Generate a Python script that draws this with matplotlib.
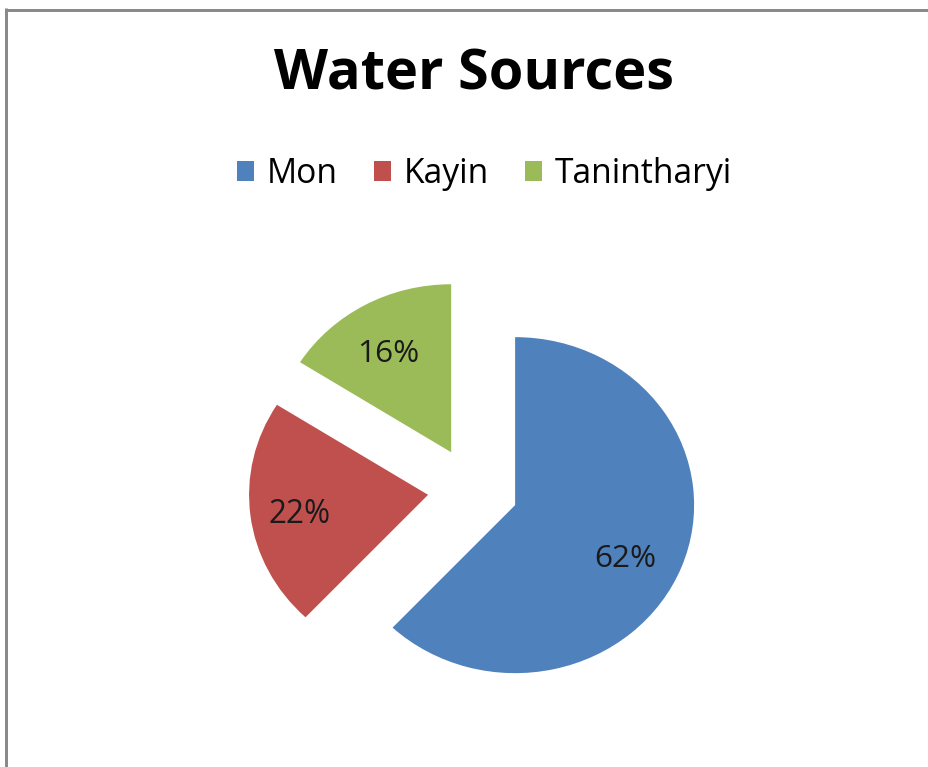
import matplotlib
matplotlib.use("Agg")
import matplotlib.pyplot as plt
from matplotlib.lines import Line2D
from matplotlib.patches import Patch
import numpy as np

# ---- data ----
title = "Water Sources"
categories = ["Mon", "Kayin", "Tanintharyi"]
shares = [62, 22, 16]
colors = ["#4F81BD", "#C0504D", "#9BBB59"]

W, H = 929, 767
DPI = 100
FONT = "Open Sans"

fig = plt.figure(figsize=(W / DPI, H / DPI), dpi=DPI)
fig.patch.set_facecolor("white")
renderer = fig.canvas.get_renderer()


def fit_width(text, target_px):
    w = text.get_window_extent(renderer).width
    text.set_fontsize(text.get_fontsize() * target_px / w)


# the reference pie is slightly stretched horizontally
RX, RY = 179.0, 168.0   # pie radius in pixels (horizontal, vertical)
CX, CY = 473.0, 489.5   # un-exploded pie centre (pixels, y down)

ax = fig.add_axes([0, 0, 1, 1])
wedges, _t, autotexts = ax.pie(
    shares, colors=colors, startangle=90, counterclock=False,
    explode=[0.253] * len(shares), autopct="%1.0f%%", pctdistance=0.73,
    wedgeprops=dict(linewidth=0),
    textprops=dict(family=FONT, fontsize=20, color="#1a1a1a"),
)
ax.set_aspect("auto")
ax.set_xlim(-CX / RX, (W - CX) / RX)
ax.set_ylim(-(H - CY) / RY, CY / RY)
ax.axis("off")

# label placement relative to each wedge apex: distance (fraction of radius)
# and angular offset from the wedge's mid-angle (degrees)
label_dist = [0.716, 0.735, 0.643]
label_rot = [-9.3, 6.0, 4.5]
for w, t, d, r in zip(wedges, autotexts, label_dist, label_rot):
    mid = np.deg2rad((w.theta1 + w.theta2) / 2 + r)
    cx, cy = w.center
    t.set_position((cx + d * np.cos(mid), cy + d * np.sin(mid)))
    t.set_verticalalignment("baseline")
    fit_width(t, 62)


def fx(px):
    return px / W


def fy(py):
    return 1 - py / H


# title
tt = fig.text(fx(473.5), fy(90), title, ha="center", va="baseline",
              family=FONT, fontweight="bold", fontsize=36, color="black")
fit_width(tt, 400)

# legend font size fitted to reference text width
probe = fig.text(0, 0, "Tanintharyi", family=FONT, fontsize=20)
fit_width(probe, 177)
leg_size = probe.get_fontsize()
probe.remove()
px_per_em = leg_size * DPI / 72

handles = [Patch(facecolor=c, edgecolor="none") for c in colors]
fig.legend(handles, categories, loc="center", bbox_to_anchor=(fx(484.5), fy(174)),
           ncol=3, frameon=False, prop=dict(family=FONT, size=leg_size),
           handlelength=17 / px_per_em, handleheight=17 / px_per_em,
           handletextpad=13 / px_per_em, columnspacing=36 / px_per_em,
           borderpad=0, borderaxespad=0)

# border (top and left grey lines)
lw = 3 * 72 / DPI
fig.add_artist(Line2D([fx(5), 1], [fy(9.5), fy(9.5)], color="#8a8a8a", lw=lw,
                      transform=fig.transFigure, solid_capstyle="butt"))
fig.add_artist(Line2D([fx(6.5), fx(6.5)], [fy(8), 0], color="#8a8a8a", lw=lw,
                      transform=fig.transFigure, solid_capstyle="butt"))

fig.savefig("out.png", dpi=DPI, facecolor="white")
